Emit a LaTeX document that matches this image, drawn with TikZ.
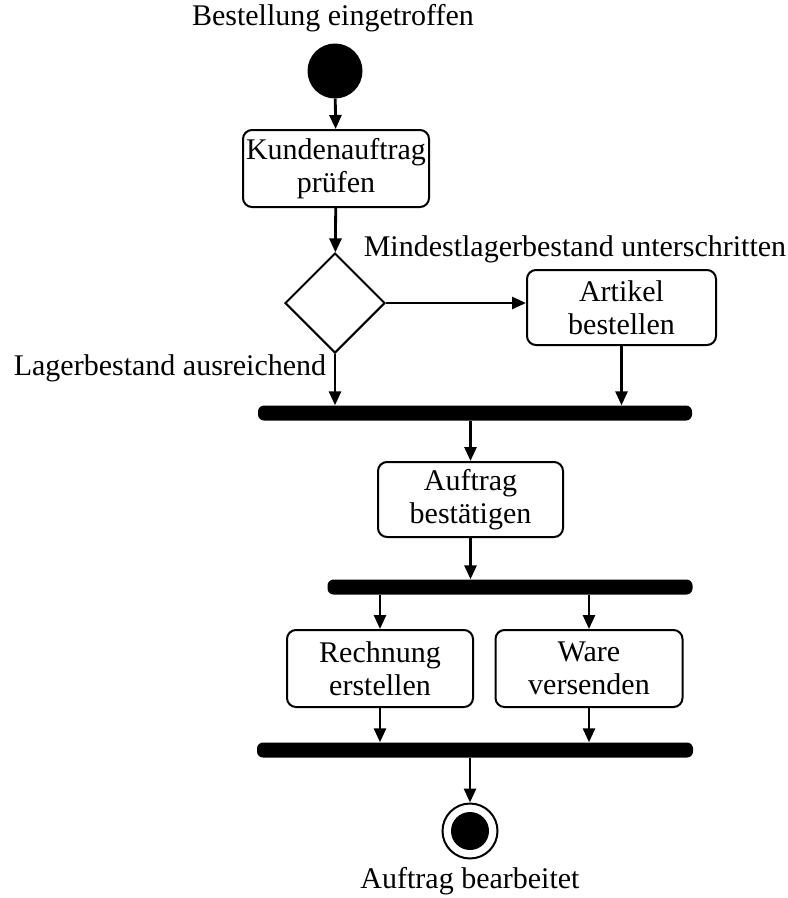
\documentclass[tikz,border=0pt]{standalone}
\usepackage{fontspec}
\setmainfont{Liberation Serif}
\usetikzlibrary{arrows.meta,shapes.geometric}
\begin{document}
\begin{tikzpicture}[x=1pt,y=-1pt,
  every node/.style={font=\fontsize{30}{33}\selectfont},
  actbox/.style={draw,line width=2pt,rounded corners=9pt,align=center,inner sep=0pt},
  syncbar/.style={fill=black,rounded corners=6pt,minimum height=15pt,inner sep=0pt},
  flow/.style={line width=2.8pt,-{Triangle[length=14pt,width=12pt]}},
  lbl/.style={inner sep=0pt}]
\useasboundingbox (0,0) rectangle (788,898);
\node[lbl] (tstart) at (333,18) {Bestellung eingetroffen};
\node[circle,fill=black,minimum size=55pt,inner sep=0pt] (start) at (335,71) {};
\node[actbox,minimum width=186pt,minimum height=77pt] (pruefen) at (336,168.5) {Kundenauftrag\\prüfen};
\node[diamond,draw,line width=2pt,minimum width=100pt,minimum height=100pt,inner sep=0pt] (dec) at (335,303) {};
\node[actbox,minimum width=189pt,minimum height=75pt] (artikel) at (621.5,307.5) {Artikel\\bestellen};
\node[lbl] (tmin) at (575,249) {Mindestlagerbestand unterschritten};
\node[lbl] (tlager) at (170,368) {Lagerbestand ausreichend};
\node[syncbar,minimum width=434pt] (bar1) at (475,413) {};
\node[actbox,minimum width=185pt,minimum height=75pt] (bestaet) at (470.5,499.5) {Auftrag\\bestätigen};
\node[syncbar,minimum width=365pt] (bar2) at (510,587) {};
\node[actbox,minimum width=186pt,minimum height=77pt] (rechnung) at (380,668.5) {Rechnung\\erstellen};
\node[actbox,minimum width=187pt,minimum height=77pt] (ware) at (589,668.5) {Ware\\versenden};
\node[syncbar,minimum width=436pt] (bar3) at (475,750) {};
\node[circle,draw,line width=2pt,minimum size=55pt,inner sep=0pt] (endo) at (470,831) {};
\node[circle,fill=black,minimum size=38pt,inner sep=0pt] (endi) at (470,831) {};
\node[lbl] (tend) at (470,881) {Auftrag bearbeitet};
\draw[flow] (start) -- (pruefen);
\draw[flow] (pruefen) -- (dec);
\draw[flow] (dec.east) -- (artikel.west |- dec.east);
\draw[flow] (dec.south) -- (dec.south |- bar1.north);
\draw[flow] (artikel.south) -- (artikel.south |- bar1.north);
\draw[flow] (bestaet.north |- bar1.south) -- (bestaet.north);
\draw[flow] (bestaet.south) -- (bestaet.south |- bar2.north);
\draw[flow] (rechnung.north |- bar2.south) -- (rechnung.north);
\draw[flow] (ware.north |- bar2.south) -- (ware.north);
\draw[flow] (rechnung.south) -- (rechnung.south |- bar3.north);
\draw[flow] (ware.south) -- (ware.south |- bar3.north);
\draw[flow] (endo.north |- bar3.south) -- (endo.north);
\end{tikzpicture}
\end{document}
